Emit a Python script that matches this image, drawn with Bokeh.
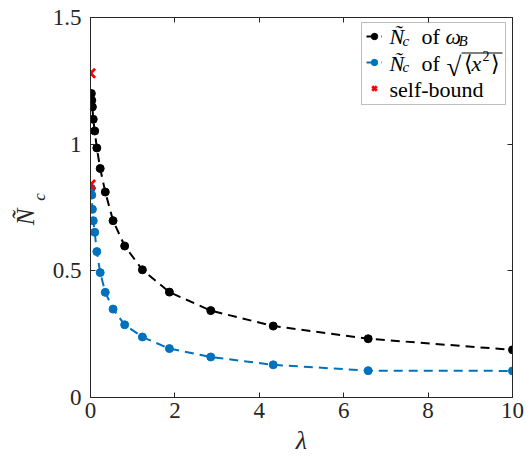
from math import pi
from bokeh.plotting import figure
from bokeh.models import (Range1d, FixedTicker, LinearAxis, Label, Legend, LegendItem,
                          CustomJSTickFormatter, BoxAnnotation)
from bokeh.embed import file_html
from bokeh.resources import INLINE

# ---- data ----
lam = [0.02, 0.03, 0.045, 0.065, 0.10, 0.15, 0.23, 0.35, 0.535, 0.81,
       1.23, 1.87, 2.85, 4.33, 6.58, 10.0]
nc_omega = [1.200, 1.173, 1.147, 1.098, 1.052, 0.985, 0.904, 0.811, 0.698, 0.598,
            0.504, 0.416, 0.343, 0.282, 0.232, 0.188]
nc_x2 = [0.826, 0.799, 0.743, 0.698, 0.652, 0.576, 0.493, 0.415, 0.349, 0.287,
         0.239, 0.193, 0.160, 0.129, 0.106, 0.105]
self_lam = [0.0, 0.0]
self_nc = [1.28, 0.84]
x_ticks = [0, 2, 4, 6, 8, 10]
x_tick_labels = ["0", "2", "4", "6", "8", "10"]
y_ticks = [0, 0.5, 1, 1.5]
y_tick_labels = ["0", "0.5", "1", "1.5"]

BLUE = "#0072BD"
AX = "#262626"
SERIF = "Liberation Serif"
NB = "\u00a0"

p = figure(width=531, height=457, x_range=Range1d(0, 10), y_range=Range1d(0, 1.5),
           output_backend="svg", toolbar_location=None,
           min_border_left=90, min_border_right=19, min_border_top=17, min_border_bottom=59)
p.background_fill_color = "white"
p.border_fill_color = "white"
p.grid.visible = False
p.outline_line_color = AX
p.outline_line_width = 1


def style_axis(ax, ticks):
    ax.ticker = FixedTicker(ticks=ticks)
    ax.major_tick_in = 5
    ax.major_tick_out = 0
    ax.minor_tick_line_color = None
    ax.axis_line_color = AX
    ax.major_tick_line_color = AX
    ax.major_label_text_font = SERIF
    ax.major_label_text_font_size = "23px"
    ax.major_label_text_color = AX


style_axis(p.xaxis[0], x_ticks)
style_axis(p.yaxis[0], y_ticks)
p.xaxis[0].major_label_overrides = dict(zip(x_ticks, x_tick_labels))
p.yaxis[0].major_label_overrides = dict(zip(y_ticks, y_tick_labels))
p.xaxis[0].major_label_standoff = 5
p.yaxis[0].major_label_standoff = 9

# x title
xa = p.xaxis[0]
xa.axis_label = "λ"
xa.axis_label_text_font = SERIF
xa.axis_label_text_font_style = "italic"
xa.axis_label_text_font_size = "26px"
xa.axis_label_text_color = AX
xa.axis_label_standoff = 5

# y title: subscript on the inner axis, main letter on an outer blank axis
ya = p.yaxis[0]
ya.axis_label = NB * 5 + "c"
ya.axis_label_text_font = SERIF
ya.axis_label_text_font_style = "italic"
ya.axis_label_text_font_size = "17px"
ya.axis_label_text_color = AX
ya.axis_label_standoff = 1

yo = LinearAxis(axis_label="Ñ" + NB * 3, axis_line_color=None, major_tick_line_color=None,
                minor_tick_line_color=None, major_label_text_font_size="1px",
                major_label_text_color=None, major_label_standoff=0,
                major_tick_in=0, major_tick_out=0,
                formatter=CustomJSTickFormatter(code="return ''"),
                ticker=FixedTicker(ticks=y_ticks),
                axis_label_text_font=SERIF, axis_label_text_font_style="italic",
                axis_label_text_font_size="25px", axis_label_text_color=AX,
                axis_label_standoff=-12)
p.add_layout(yo, "left")

for loc, ticks in (("above", x_ticks), ("right", y_ticks)):
    ax = LinearAxis()
    style_axis(ax, ticks)
    ax.formatter = CustomJSTickFormatter(code="return ''")
    ax.major_label_text_font_size = "1px"
    ax.major_label_text_color = None
    ax.major_label_standoff = 0
    p.add_layout(ax, loc)

# ---- data marks ----
lb = p.line(lam, nc_omega, line_color="black", line_width=2, line_dash="9 6")
sb = p.scatter(lam, nc_omega, size=8, fill_color="black", line_color="black")
lbl = p.line(lam, nc_x2, line_color=BLUE, line_width=2, line_dash="9 6")
sbl = p.scatter(lam, nc_x2, size=8, fill_color=BLUE, line_color=BLUE)
sx = p.scatter(self_lam, self_nc, marker="x", size=13, line_color="red", line_width=2.8)

# ---- legend: white box underneath, transparent Bokeh legend for the samples ----
FL, FB = 90, 398
p.add_layout(BoxAnnotation(left=361 - FL, right=505 - FL, bottom=FB - 105, top=FB - 23,
                           left_units="screen", right_units="screen",
                           bottom_units="screen", top_units="screen",
                           fill_color="white", fill_alpha=1, line_color=AX, line_width=1,
                           level="underlay"))

legend = Legend(items=[LegendItem(label=" ", renderers=[lb, sb]),
                       LegendItem(label=" ", renderers=[lbl, sbl]),
                       LegendItem(label=" ", renderers=[sx])],
                location="top_right", margin=6, padding=2, spacing=0,
                glyph_width=16, glyph_height=26, label_standoff=11,
                label_width=113, label_height=26, label_text_font_size="1px",
                border_line_color=None, background_fill_alpha=0)
p.add_layout(legend)

DY = 6.5  # Label baseline correction


def lab(text, cx, cy, size, italic=False, align="left", font=SERIF, color="black"):
    p.add_layout(Label(x=cx - FL, y=FB - (cy - DY), x_units="screen", y_units="screen",
                       text=text, text_font=font, text_font_size=f"{size}px",
                       text_font_style="italic" if italic else "normal",
                       text_align=align, text_baseline="alphabetic", text_color=color))


# legend texts
lab("Ñ", 389, 43.5, 22, True)
lab("c", 402, 47.5, 15, True)
lab("of", 421, 43.5, 22)
lab("ω", 445, 43.5, 22, True)
lab("B", 458, 47.5, 15, True)

lab("Ñ", 389, 70, 22, True)
lab("c", 402, 74, 15, True)
lab("of", 421, 70, 22)
lab("√", 446, 74, 27)
lab("⟨", 463, 70, 22)
lab("x", 471, 70, 22, True)
lab("2", 482, 63, 14)
lab("⟩", 490, 70, 22)
p.add_layout(BoxAnnotation(left=461 - FL, right=502 - FL, bottom=FB - 54, top=FB - 53,
                           left_units="screen", right_units="screen",
                           bottom_units="screen", top_units="screen",
                           fill_color="black", fill_alpha=1, line_color=None))

lab("self-bound", 389, 96, 22)

open("out.html", "w").write(file_html(p, INLINE))
